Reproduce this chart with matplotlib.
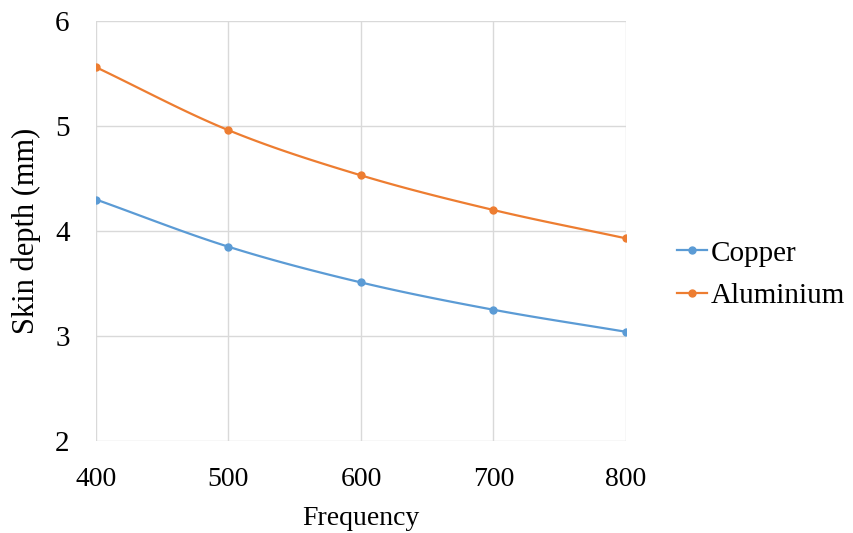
import numpy as np
import matplotlib.pyplot as plt

plt.rcParams['font.family'] = ['Liberation Serif', 'DejaVu Serif']

frequency = [400, 500, 600, 700, 800]
copper = [4.30, 3.85, 3.51, 3.25, 3.04]
aluminium = [5.56, 4.96, 4.53, 4.20, 3.93]


def smooth(x, y, n=30):
    # catmull-rom curve through the points, like excel's smoothed line
    x = np.asarray(x, float)
    y = np.asarray(y, float)
    px = np.concatenate([[2 * x[0] - x[1]], x, [2 * x[-1] - x[-2]]])
    py = np.concatenate([[2 * y[0] - y[1]], y, [2 * y[-1] - y[-2]]])
    xs, ys = [], []
    t = np.linspace(0, 1, n)
    for i in range(1, len(px) - 2):
        for p, out in ((px, xs), (py, ys)):
            p0, p1, p2, p3 = p[i - 1], p[i], p[i + 1], p[i + 2]
            out.extend(0.5 * ((2 * p1) + (-p0 + p2) * t
                              + (2 * p0 - 5 * p1 + 4 * p2 - p3) * t ** 2
                              + (-p0 + 3 * p1 - 3 * p2 + p3) * t ** 3))
    return xs, ys


fig = plt.figure(figsize=(8.54, 5.33), dpi=100)
ax = fig.add_axes([0.1124, 0.1726, 0.6206, 0.788])

series = [("Copper", copper, "#5B9BD5"), ("Aluminium", aluminium, "#ED7D31")]
for name, vals, col in series:
    sx, sy = smooth(frequency, vals)
    ax.plot(sx, sy, color=col, lw=1.6, zorder=3)
    ax.plot(frequency, vals, 'o', color=col, ms=5, zorder=4)
    ax.plot([], [], '-o', color=col, lw=1.6, ms=5, label=name)

ax.set_xlim(400, 800)
ax.set_ylim(2, 6)
ax.set_xticks(frequency)
ax.set_yticks([2, 3, 4, 5, 6])
ax.grid(True, color="#d9d9d9", lw=1)
ax.set_axisbelow(True)
for s in ax.spines.values():
    s.set_visible(False)
ax.tick_params(length=0, colors="black")
ax.tick_params(axis='y', pad=19, labelsize=21)
ax.tick_params(axis='x', pad=19, labelsize=20)

ax.set_xlabel("Frequency", fontsize=20, labelpad=10)
ax.set_ylabel("Skin depth (mm)", fontsize=22, labelpad=10)

ax.legend(loc='center left', bbox_to_anchor=(1.096, 0.396), frameon=False,
          fontsize=21, handlelength=1.03, handletextpad=0.14, labelspacing=0.55,
          borderpad=0, borderaxespad=0)

fig.savefig("out.png", dpi=100)
